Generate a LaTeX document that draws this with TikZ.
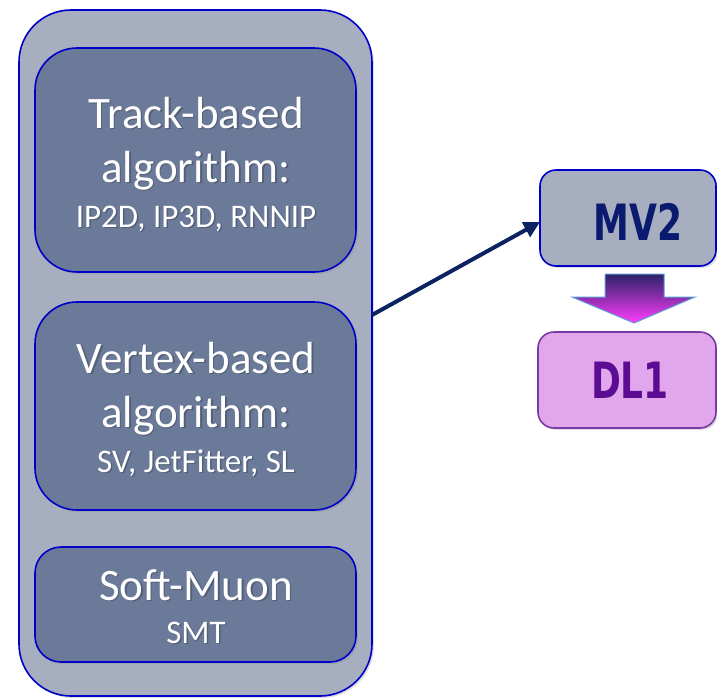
\documentclass[tikz,border=0pt]{standalone}
\usepackage{fontspec}
\setmainfont{Carlito}
\newfontfamily\condfont{DejaVu Sans Condensed}
\usetikzlibrary{shadows,arrows.meta}
\definecolor{outerfill}{HTML}{A6AEBF}
\definecolor{innerfill}{HTML}{6B7A99}
\definecolor{boxblue}{HTML}{0000C8}
\definecolor{mvtext}{HTML}{0A1A6E}
\definecolor{dlfill}{HTML}{E2A6EC}
\definecolor{dlborder}{HTML}{7A3AA6}
\definecolor{dltext}{HTML}{5C0B93}
\definecolor{arrtop}{HTML}{2B2266}
\definecolor{arrbot}{HTML}{FF3CFF}
\definecolor{arrborder}{HTML}{5B9BD5}
\definecolor{navy}{HTML}{0B2461}
\tikzset{
  boxstyle/.style={draw=boxblue, line width=1.6pt, inner sep=0pt, outer sep=0pt,
     drop shadow={opacity=0.25, shadow xshift=2pt, shadow yshift=-2pt}},
  bigtext/.style={text=white, font=\fontsize{45}{45}\selectfont, anchor=base, inner sep=0pt},
  smalltext/.style={text=white, font=\fontsize{33}{33}\selectfont, anchor=base, inner sep=0pt},
  bigshadow/.style={bigtext, text=black, text opacity=0.22},
  smallshadow/.style={smalltext, text=black, text opacity=0.22},
}
\begin{document}
\begin{tikzpicture}[x=1pt,y=-1pt]
\useasboundingbox (0,0) rectangle (717,697);
% outer container
\node[boxstyle, fill=outerfill, rounded corners=52pt, minimum width=353pt, minimum height=686pt] (outer) at (195.5,353) {};
% inner boxes
\node[boxstyle, fill=innerfill, rounded corners=42pt, minimum width=321pt, minimum height=224pt] (track) at (195.5,160) {};
\node[boxstyle, fill=innerfill, rounded corners=42pt, minimum width=321pt, minimum height=208pt] (vertex) at (195.5,406) {};
\node[boxstyle, fill=innerfill, rounded corners=26pt, minimum width=321pt, minimum height=115pt] (muon) at (195.5,604.5) {};
% text shadows
\node[bigshadow] (t1s) at (197.5,129.5) {Track-based};
\node[bigshadow] (t2s) at (197.5,183.5) {algorithm:};
\node[smallshadow] (t3s) at (197.5,228.5) {IP2D, IP3D, RNNIP};
\node[bigshadow] (v1s) at (197.5,374.5) {Vertex-based};
\node[bigshadow] (v2s) at (197.5,428.5) {algorithm:};
\node[smallshadow] (v3s) at (197.5,473.5) {SV, JetFitter, SL};
\node[bigshadow] (m1s) at (197.5,601.5) {Soft-Muon};
\node[smallshadow] (m2s) at (197.5,644.5) {SMT};
% texts
\node[bigtext] (t1) at (196,128) {Track-based};
\node[bigtext] (t2) at (196,182) {algorithm:};
\node[smalltext] (t3) at (196,227) {IP2D, IP3D, RNNIP};
\node[bigtext] (v1) at (196,373) {Vertex-based};
\node[bigtext] (v2) at (196,427) {algorithm:};
\node[smalltext] (v3) at (196,472) {SV, JetFitter, SL};
\node[bigtext] (m1) at (196,600) {Soft-Muon};
\node[smalltext] (m2) at (196,643) {SMT};
% MV2 box
\node[boxstyle, fill=outerfill, rounded corners=16pt, minimum width=176pt, minimum height=96pt] (mv2) at (628,218) {};
\node[anchor=base, inner sep=0pt, text=mvtext, font=\condfont\bfseries\fontsize{50}{50}\selectfont] (mv2t) at (638,240) {\scalebox{0.8}[1]{MV2}};
% DL1 box
\node[draw=dlborder, line width=1.6pt, fill=dlfill, rounded corners=16pt, minimum width=178pt, minimum height=96pt, inner sep=0pt,
      drop shadow={opacity=0.25, shadow xshift=2pt, shadow yshift=-2pt}] (dl1) at (627,380) {};
\node[anchor=base, inner sep=0pt, text=dltext, font=\condfont\bfseries\fontsize{50}{50}\selectfont] (dl1t) at (630,398) {\scalebox{0.8}[1]{DL1}};
% gradient down arrow
\coordinate (a1) at (605,274);
\coordinate (a2) at (664,274);
\coordinate (a3) at (664,297);
\coordinate (a4) at (695,297);
\coordinate (a5) at (634,323);
\coordinate (a6) at (572,297);
\coordinate (a7) at (605,297);
\shade[top color=arrtop, bottom color=arrbot] (a1) -- (a2) -- (a3) -- (a4) -- (a5) -- (a6) -- (a7) -- cycle;
\draw[arrborder, line width=1pt, line join=miter] (a1) -- (a2) -- (a3) -- (a4) -- (a5) -- (a6) -- (a7) -- cycle;
% connector
\coordinate (cs) at (372,315);
\draw[navy, line width=4pt, -{Triangle[length=16pt,width=16pt]}] (cs) -- (mv2.west |- 0,222);
\end{tikzpicture}
\end{document}
